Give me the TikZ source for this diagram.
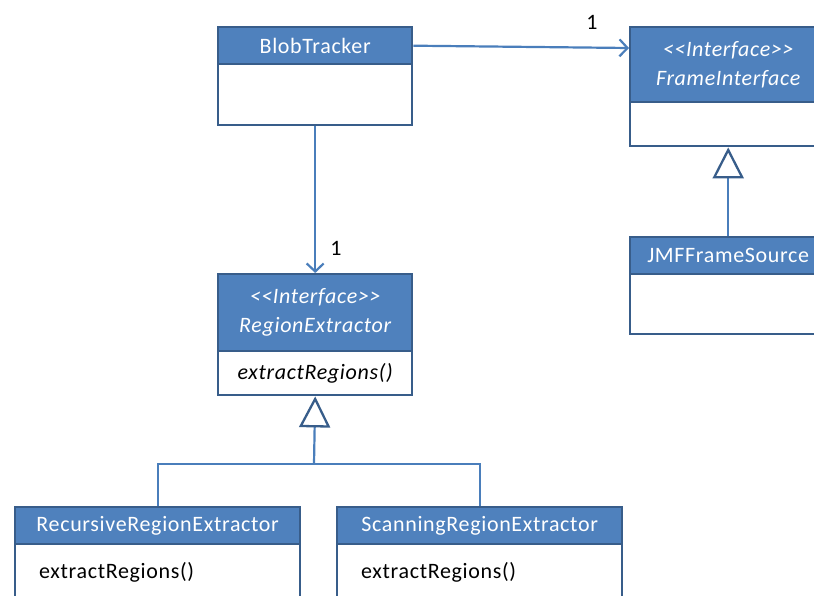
\documentclass[tikz,border=0pt]{standalone}
\usepackage{fontspec}
\setmainfont[LetterSpace=3]{Carlito}
\usetikzlibrary{arrows.meta,calc}
\definecolor{hdr}{HTML}{4F81BD}
\definecolor{edge}{HTML}{385D8A}
\definecolor{wire}{HTML}{4A7EBB}
\newcommand{\stereo}{<{}<Interface>{}>}
\tikzset{
  classhead/.style={rectangle, draw=edge, fill=hdr, line width=2.4pt, anchor=north west,
    inner sep=0pt, text=white, align=center, font=\fontsize{22}{29}\selectfont},
  classbody/.style={rectangle, draw=edge, fill=white, line width=2.4pt, anchor=north west, inner sep=0pt},
  member/.style={font=\fontsize{22}{29}\selectfont, inner sep=0pt},
  assoc/.style={draw=wire, line width=2.2pt, -{Straight Barb[length=8pt,width=17pt,line width=2.2pt]}},
  inherit/.style={draw=wire, line width=2.2pt,
    -{Triangle[open, length=31pt, width=31pt, line width=2.3pt, color=edge, fill=white]}},
  wireline/.style={draw=wire, line width=2.2pt},
  mult/.style={font=\fontsize{22}{29}\selectfont, inner sep=0pt}
}
\begin{document}
\begin{tikzpicture}[x=1pt,y=-1pt]
\useasboundingbox (0,0) rectangle (814,596);

% BlobTracker
\node[classbody, minimum width=194pt, minimum height=61pt] (btb) at (217,63) {};
\node[classhead, minimum width=194pt, minimum height=37pt] (bth) at (217,26) {BlobTracker};

% FrameInterface
\node[classbody, minimum width=196pt, minimum height=44pt] (fib) at (629,101) {};
\node[classhead, minimum width=196pt, minimum height=75pt] (fih) at (629,26)
  {\itshape \stereo\\\itshape FrameInterface};

% JMFFrameSource
\node[classbody, minimum width=196pt, minimum height=60pt] (jmb) at (629,273) {};
\node[classhead, minimum width=196pt, minimum height=37pt] (jmh) at (629,236) {JMFFrameSource};

% RegionExtractor
\node[classbody, minimum width=194pt, minimum height=44pt] (reb) at (217,350) {};
\node[classhead, minimum width=194pt, minimum height=77pt] (reh) at (217,273)
  {\itshape \stereo\\\itshape RegionExtractor};
\node[member, font=\fontsize{22}{29}\selectfont\itshape] (rem) at (reb.center) {extractRegions()};

% RecursiveRegionExtractor
\node[classbody, minimum width=285pt, minimum height=70pt] (rcb) at (14,543) {};
\node[classhead, minimum width=285pt, minimum height=37pt] (rch) at (14,506) {RecursiveRegionExtractor};
\node[member, anchor=west] (rcm) at (39,572) {extractRegions()};

% ScanningRegionExtractor
\node[classbody, minimum width=285pt, minimum height=70pt] (scb) at (336,543) {};
\node[classhead, minimum width=285pt, minimum height=37pt] (sch) at (336,506) {ScanningRegionExtractor};
\node[member, anchor=west] (scm) at (361,572) {extractRegions()};

% associations
\coordinate (fiin) at ($(fih.north west)+(0,22)$);
\draw[assoc] (bth.east) -- (fiin);
\node[mult] (m1) at (592,22) {1};
\draw[assoc] (btb.south) -- (reh.north);
\node[mult] (m2) at (336,248) {1};

% generalisations
\coordinate (join) at (314,464);
\draw[wireline] (rch.north) |- (join) -| (sch.north);
\draw[inherit] (join) -- (reb.south);
\draw[inherit] (jmh.north) -- (fib.south);
\end{tikzpicture}
\end{document}
